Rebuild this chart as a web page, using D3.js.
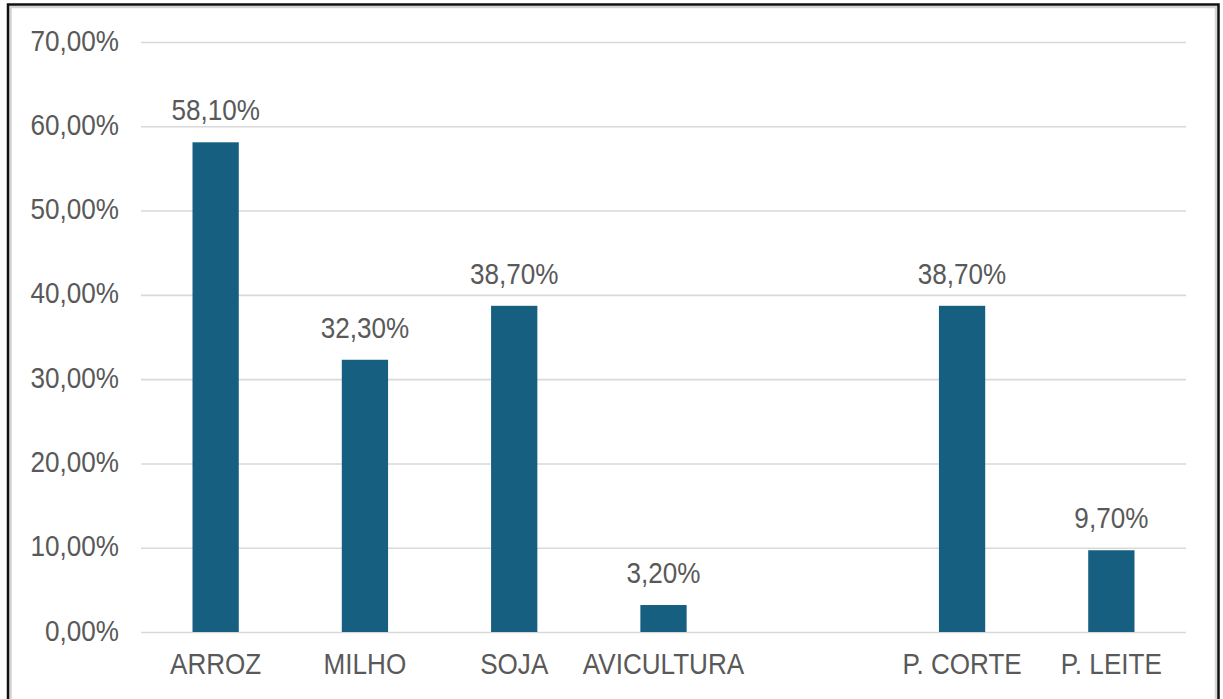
<!DOCTYPE html>
<html>
<head>
<meta charset="utf-8">
<script src="https://cdn.jsdelivr.net/npm/d3@7"></script>
<style>
  html, body { margin: 0; padding: 0; background: #fff; }
  svg { display: block; }
</style>
</head>
<body>
<svg id="chart" width="1223" height="699"></svg>
<script>
// Share of producers per activity
const categories = ["ARROZ", "MILHO", "SOJA", "AVICULTURA", "", "P. CORTE", "P. LEITE"];
const values = [58.1, 32.3, 38.7, 3.2, null, 38.7, 9.7];
const yTicks = [0, 10, 20, 30, 40, 50, 60, 70];

const W = 1223, H = 699;
const plot = { left: 141, right: 1186, top: 42, bottom: 632 };
const textColor = "#595959";
const barColor = "#175f81";
const gridColor = "#d9d9d9";
const font = "'Liberation Sans', Arial, sans-serif";
const fontSize = 29;
const squeeze = 0.9;

const pct = v => d3.format(".2f")(v).replace(".", ",") + "%";

const svg = d3.select("#chart");

// frame
svg.append("rect")
  .attr("x", 10.5).attr("y", 7).attr("width", 1205.5).attr("height", 720)
  .attr("fill", "none").attr("stroke", "#d4d4d4").attr("stroke-width", 2.5);
svg.append("rect")
  .attr("x", 8).attr("y", 4.5).attr("width", 1210.5).attr("height", 720)
  .attr("fill", "none").attr("stroke", "#111").attr("stroke-width", 2.5);

const x = d3.scaleBand()
  .domain(categories)
  .range([plot.left, plot.right])
  .paddingInner(0.69)
  .paddingOuter(0.345);

const y = d3.scaleLinear()
  .domain([0, 70])
  .range([plot.bottom, plot.top]);

// y axis with gridlines
const yAxis = svg.append("g")
  .attr("transform", `translate(${plot.left},0)`)
  .call(d3.axisLeft(y)
    .tickValues(yTicks)
    .tickFormat(d => pct(d))
    .tickSize(-(plot.right - plot.left))
    .tickPadding(0));
yAxis.select(".domain").remove();
yAxis.selectAll(".tick line")
  .attr("stroke", gridColor).attr("stroke-width", 1.6);
yAxis.selectAll(".tick text")
  .attr("x", -22 / squeeze)
  .attr("dy", null)
  .attr("y", 8)
  .attr("transform", `scale(${squeeze},1)`)
  .attr("fill", textColor)
  .style("font-family", font)
  .style("font-size", fontSize + "px")
  .attr("text-anchor", "end");

// bars
const data = categories.map((c, i) => ({ cat: c, value: values[i] })).filter(d => d.value != null);

svg.append("g").selectAll("rect")
  .data(data)
  .join("rect")
  .attr("x", d => x(d.cat))
  .attr("width", x.bandwidth())
  .attr("y", d => y(d.value))
  .attr("height", d => y(0) - y(d.value))
  .attr("fill", barColor);

// value labels
svg.append("g").selectAll("g")
  .data(data)
  .join("g")
  .attr("transform", d => `translate(${x(d.cat) + x.bandwidth() / 2},${y(d.value) - 22}) scale(${squeeze},1)`)
  .append("text")
  .attr("text-anchor", "middle")
  .attr("fill", textColor)
  .style("font-family", font)
  .style("font-size", fontSize + "px")
  .text(d => pct(d.value));

// x axis labels
const xAxis = svg.append("g")
  .attr("transform", `translate(0,${plot.bottom})`)
  .call(d3.axisBottom(x).tickSize(0).tickPadding(0));
xAxis.select(".domain").remove();
xAxis.selectAll(".tick text")
  .attr("y", 0)
  .attr("dy", null)
  .attr("transform", `translate(0,42) scale(${squeeze},1)`)
  .attr("fill", textColor)
  .style("font-family", font)
  .style("font-size", fontSize + "px")
  .attr("text-anchor", "middle");
</script>
</body>
</html>
